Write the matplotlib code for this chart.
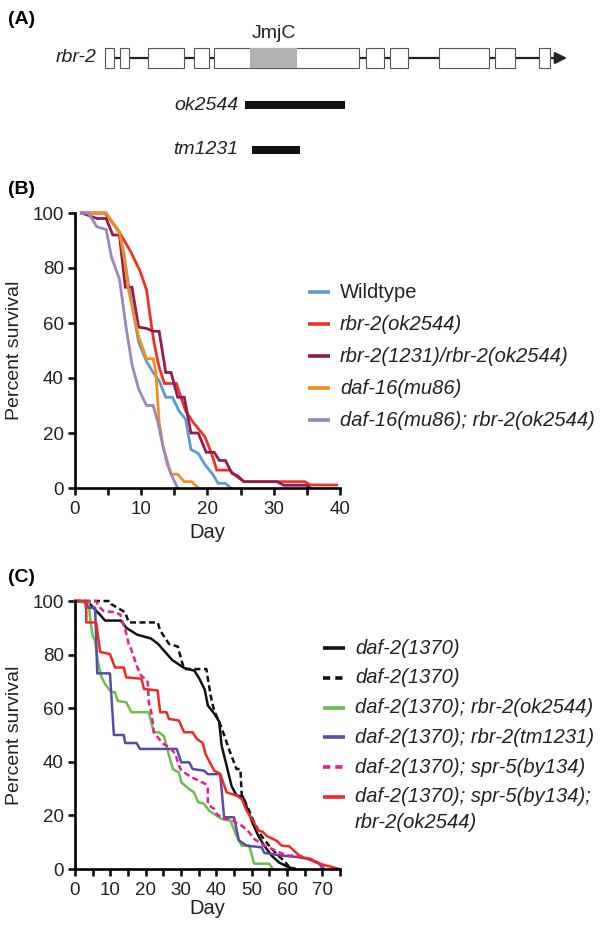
import matplotlib
matplotlib.use("Agg")
import matplotlib.pyplot as plt
from matplotlib.patches import Rectangle

plt.rcParams["font.family"] = ["Liberation Sans", "DejaVu Sans"]

W, H = 601, 938

# ---- (A) rbr-2 gene model, diagram units across the page
exons = [(105, 114), (120, 129), (148, 184), (194, 209), (214, 359),
         (366, 384), (390, 408), (439, 489), (495, 515), (539, 550)]
jmjc_domain = (250, 297)
gene_span = (105, 567)
deletion_names = ["ok2544", "tm1231"]
deletion_spans = [(245, 345), (252, 300)]

# ---- (B) lifespan, day vs percent survival
b_labels = ["Wildtype", "rbr-2(ok2544)", "rbr-2(1231)/rbr-2(ok2544)",
            "daf-16(mu86)", "daf-16(mu86); rbr-2(ok2544)"]
wt_day = [1, 4.7, 5.5, 6.7, 7.4, 8, 8.8, 9.6, 10.8, 11.8, 12.7, 13.7, 14.7, 15.7,
          16.7, 17.5, 18.6, 19.6, 20.8, 21.6, 22.7, 23.5]
wt_surv = [100, 100, 97, 93, 85, 75, 64, 53, 46, 42, 39, 33, 33, 28,
           25, 14, 12.6, 8.5, 5, 1.7, 1.7, 0]
ok_day = [1, 4.5, 5.5, 6.7, 8.4, 9.8, 10.8, 11.6, 12, 12.7, 13.5, 15.3, 16.7, 17.8,
          19.6, 20.6, 21.4, 23.3, 24.5, 25.5, 34.7, 35.5, 39.5]
ok_surv = [100, 100, 97, 93, 86, 79, 72, 58, 52, 44, 38, 38, 28, 24,
           18.7, 12.6, 6.5, 6.5, 4, 2.3, 2.3, 1.1, 1.1]
trans_day = [1, 3.3, 4.7, 5.7, 6.7, 7.6, 8.6, 9.6, 10.8, 11.8, 12.7, 13.7, 14.5, 15.5,
             16.5, 17.5, 18.6, 19.8, 21, 21.8, 22.7, 23.7, 24.5, 25.5, 30.5, 31.5, 35, 35.5]
trans_surv = [100, 98, 98, 92, 92, 73, 73, 58.5, 58, 57, 57, 42, 42, 33,
              33, 20, 20, 13, 13, 10, 10, 5.3, 4.5, 2.3, 2.3, 1, 1, 0]
daf16_day = [1, 4.7, 5.5, 6.7, 7.4, 8, 8.8, 9.6, 10.8, 11.8, 12.2, 12.7, 13.3,
             14.5, 15.5, 16.5, 17.6, 18.6]
daf16_surv = [100, 100, 97, 93, 84, 73, 64, 55, 47, 47, 42, 24, 15,
              5, 5, 2.3, 2.3, 0]
dbl_day = [1, 2, 3.3, 4.7, 5.5, 6.7, 7.8, 8.6, 9.6, 10.8, 11.8, 12.5, 13.3, 13.9,
           14.5, 15.5]
dbl_surv = [100, 100, 95, 94, 84, 76, 57, 45, 36, 30, 30, 24, 15, 9, 5, 0]
b_days = [wt_day, ok_day, trans_day, daf16_day, dbl_day]
b_survs = [wt_surv, ok_surv, trans_surv, daf16_surv, dbl_surv]
b_colors = ["#5a9bd4", "#ee3224", "#931a52", "#f68b1f", "#9b86c2"]

# ---- (C) lifespan in daf-2 background
c_labels = ["daf-2(1370)", "daf-2(1370)", "daf-2(1370); rbr-2(ok2544)",
            "daf-2(1370); rbr-2(tm1231)", "daf-2(1370); spr-5(by134)",
            "daf-2(1370); spr-5(by134);\nrbr-2(ok2544)"]
d2a_day = [0, 3.9, 5.5, 7, 8.5, 13, 14.5, 17.5, 21.5, 23.5, 25.5, 27.5, 30.9, 33.8,
           35.2, 36.7, 37.6, 39.4, 40.8, 41.5, 42.9, 44.3, 45.7, 47.5, 49, 50.4,
           51.9, 53.6, 55.7, 57.8, 59.9, 62]
d2a_surv = [100, 99.4, 97, 95, 92.7, 92.7, 90, 87.5, 86, 84, 81, 78, 75, 74,
            71, 67, 61, 58, 55, 46, 38.6, 31, 27.4, 27, 21.7, 16.7,
            12.3, 8.6, 4.9, 2.4, 1, 0]
d2b_day = [0, 9.9, 10.3, 14.2, 15.2, 23.4, 24.1, 26.6, 29.1, 30.1, 30.9, 37.2, 37.6,
           38.5, 39.4, 41.1, 42.2, 43.5, 45.7, 46.8, 47.2, 47.5, 49.3, 50.7, 52.8,
           55, 57.1, 59.2, 60.5, 62.5]
d2b_surv = [100, 100, 98.8, 95.8, 92, 92, 89, 84, 83, 78, 74.6, 74.6, 71,
            64, 59, 54, 50, 45, 37.3, 37.3, 27.4, 27, 21.7, 17.3, 12.3,
            8.6, 5.5, 3, 1, 0]
c_ok_day = [0, 3.9, 4.3, 5, 5.7, 6.4, 7.4, 8.5, 10.3, 11.3, 12.1, 14.5, 16, 20.9,
            21.6, 22.3, 23.8, 25.2, 26.6, 27.7, 29.4, 30.1, 32.3, 33.7, 34.8, 36.5,
            38, 39.4, 41.5, 44, 45.7, 47.2, 49.3, 50.7, 55, 56]
c_ok_surv = [100, 99.4, 93, 87, 85, 78, 72, 69, 66, 66, 62.7, 62.2, 58.5, 58.5,
             54.7, 51, 51, 49.5, 42.3, 37.3, 36, 32.3, 29.8, 28.6, 25, 24.3,
             21.7, 20.5, 18.7, 18, 12.4, 8.7, 8.7, 2, 2, 0]
c_tm_day = [0, 3, 3.6, 5.7, 6.3, 9.9, 11, 13.8, 14.2, 17.4, 18.4, 28.8, 30.1, 32.3,
            33.3, 36.5, 37.6, 41.1, 42.2, 45, 46.4, 48.6, 52.8, 53.6, 58.5, 62.8,
            67, 69.1, 70.2]
c_tm_surv = [100, 100, 97.5, 97.5, 73, 73, 50, 50, 47, 47, 44.8, 44.8, 39.8, 39.8,
             37.3, 36.7, 35.4, 35.4, 19.3, 19.3, 10.6, 8.7, 8.1, 6, 5, 4.5,
             3.5, 2, 0]
spr_day = [0, 6, 6.7, 8.1, 11, 12.8, 13.5, 14.2, 15.2, 15.9, 17.4, 18.8, 19.9, 20.6,
           20.9, 21.6, 22, 22.3, 23.8, 25.2, 26.6, 28.4, 29.4, 30.1, 33, 35.1, 36.9,
           37.6, 37.6, 38.7, 39.4, 40.1, 42.2, 44, 45.4, 47.2, 49.3, 50.7, 52.1,
           53.6, 55.7, 57.8, 59.9, 62.8, 67, 69.5, 70.5]
spr_surv = [100, 100, 98, 96.3, 95.8, 95, 92, 89.5, 84, 82, 76, 72, 71, 69.6,
            62, 58.5, 54.7, 51, 48.5, 46.5, 45.5, 43, 38.6, 36.7, 34.2, 33, 31.7,
            30.5, 24.3, 23, 22.4, 20.5, 18.7, 18.7, 17.4, 16.2, 13.7, 11.2, 10,
            8.7, 7.5, 6.2, 5, 5, 3.7, 1.9, 0.5]
triple_day = [0, 2.9, 3.2, 3.2, 6, 7.1, 9.9, 11.3, 13.8, 14.5, 18.8, 19.5, 23.4,
              24.1, 25.9, 26.6, 29.4, 30.9, 33.3, 34.5, 36.2, 36.9, 39.4, 41.1,
              42.9, 45.7, 47.2, 48.6, 50.7, 51.9, 53, 54.3, 57.1, 58.5, 60.6, 63.5,
              66.3, 69.1, 72, 74.8]
triple_surv = [100, 100, 96, 92, 92, 81, 80.2, 75.2, 75.2, 71.5, 71, 67.2, 66.6,
               58.5, 58.5, 56, 55.4, 51, 51, 48.5, 47, 43, 36.7, 35.5,
               28.6, 27.4, 26.1, 21.7, 17.3, 14.2, 14, 12.3, 10.5, 8.7, 8.5, 5,
               3.5, 2, 1, 0]
c_days = [d2a_day, d2b_day, c_ok_day, c_tm_day, spr_day, triple_day]
c_survs = [d2a_surv, d2b_surv, c_ok_surv, c_tm_surv, spr_surv, triple_surv]
c_colors = ["#111111", "#111111", "#6abf4b", "#574ba6", "#ec1c8e", "#ee2a24"]
c_styles = ["-", "--", "-", "-", "--", "-"]

fig = plt.figure(figsize=(W / 100, H / 100), dpi=100)


def px_axes(x0, y0, x1, y1):
    return fig.add_axes([x0 / W, 1 - y1 / H, (x1 - x0) / W, (y1 - y0) / H])


def style_survival_axis(ax, xmax, major, minor):
    ax.set_xlim(0, xmax)
    ax.set_ylim(0, 100)
    ax.set_xticks(range(0, xmax + 1, major))
    ax.set_xticks(range(0, xmax + 1, minor), minor=True)
    ax.set_yticks(range(0, 101, 20))
    for side in ["top", "right"]:
        ax.spines[side].set_visible(False)
    for side in ["left", "bottom"]:
        ax.spines[side].set_linewidth(1.9)
    ax.tick_params(which="both", direction="out", length=5, width=1.9,
                   labelsize=13.5, color="#111111", labelcolor="#222222")
    ax.tick_params(axis="x", pad=4)
    ax.tick_params(axis="y", pad=3)
    ax.patch.set_alpha(0)


ax_b = px_axes(75, 213, 340, 488)
style_survival_axis(ax_b, 40, 10, 5)
for days, surv, color in zip(b_days, b_survs, b_colors):
    ax_b.plot(days, surv, color=color, lw=2.0, clip_on=False,
              solid_joinstyle="miter")

ax_c = px_axes(75, 601, 340, 869)
style_survival_axis(ax_c, 75, 10, 5)
for days, surv, color, ls in zip(c_days, c_survs, c_colors, c_styles):
    line, = ax_c.plot(days, surv, color=color, lw=1.8, ls=ls, clip_on=False)
    if ls == "--":
        line.set_dashes((2.4, 1.4))

# overlay in page pixels for the gene model, legends and labels
ov = fig.add_axes([0, 0, 1, 1])
ov.set_xlim(0, W)
ov.set_ylim(H, 0)
ov.axis("off")

for label, y in [("(A)", 19), ("(B)", 189), ("(C)", 577)]:
    ov.text(8, y, label, fontsize=14, fontweight="bold", ha="left", va="center")

# gene model
gy = 58
ov.plot([gene_span[0], gene_span[1] - 6], [gy, gy], color="#222222", lw=1.6,
        solid_capstyle="butt")
ov.annotate("", xy=(gene_span[1], gy), xytext=(gene_span[1] - 14, gy),
            arrowprops=dict(arrowstyle="-|>,head_length=0.7,head_width=0.35",
                            color="#222222", lw=1.6, shrinkA=0, shrinkB=0))
for x0, x1 in exons:
    ov.add_patch(Rectangle((x0, gy - 10), x1 - x0, 20, facecolor="white",
                           edgecolor="#555555", lw=0.8, zorder=3))
ov.add_patch(Rectangle((jmjc_domain[0], gy - 10), jmjc_domain[1] - jmjc_domain[0], 20,
                       facecolor="#b1b1b3", edgecolor="none", zorder=4))
ov.text(jmjc_domain[0] + (jmjc_domain[1] - jmjc_domain[0]) / 2, 33, "JmjC",
        fontsize=14, ha="center", va="center", color="#222222")
ov.text(97, gy, "rbr-2", fontsize=14, style="italic", ha="right", va="center",
        color="#222222")
for i, (name, (x0, x1)) in enumerate(zip(deletion_names, deletion_spans)):
    y = 105 + i * 45
    ov.add_patch(Rectangle((x0, y - 4), x1 - x0, 8, facecolor="#111111",
                           edgecolor="none"))
    ov.text(238, y, name, fontsize=14, style="italic", ha="right", va="center",
            color="#222222")

# axis titles
for y in [350, 735]:
    ov.text(15, y, "Percent survival", fontsize=14, rotation=90, ha="center",
            va="center", color="#222222")
ov.text(207, 533, "Day", fontsize=14.5, ha="center", va="center", color="#222222")
ov.text(207, 909, "Day", fontsize=14.5, ha="center", va="center", color="#222222")

# legend (B)
for i, (label, color) in enumerate(zip(b_labels, b_colors)):
    y = 292 + i * 32
    ov.plot([308, 330], [y, y], color=color, lw=2.6, solid_capstyle="butt")
    ov.text(340, y, label, fontsize=14.5, ha="left", va="center", color="#222222",
            style="normal" if i == 0 else "italic")

# legend (C)
for i, (label, color, ls) in enumerate(zip(c_labels, c_colors, c_styles)):
    y = 648 + i * 29.8
    handle, = ov.plot([323, 345], [y, y], color=color, lw=2.6, ls=ls,
                      solid_capstyle="butt", dash_capstyle="butt")
    if ls == "--":
        handle.set_dashes((2.0, 1.4))
    for j, part in enumerate(label.split("\n")):
        ov.text(355, y + j * 26, part, fontsize=14.5, style="italic", ha="left",
                va="center", color="#222222")

fig.savefig("out.png", dpi=100)
